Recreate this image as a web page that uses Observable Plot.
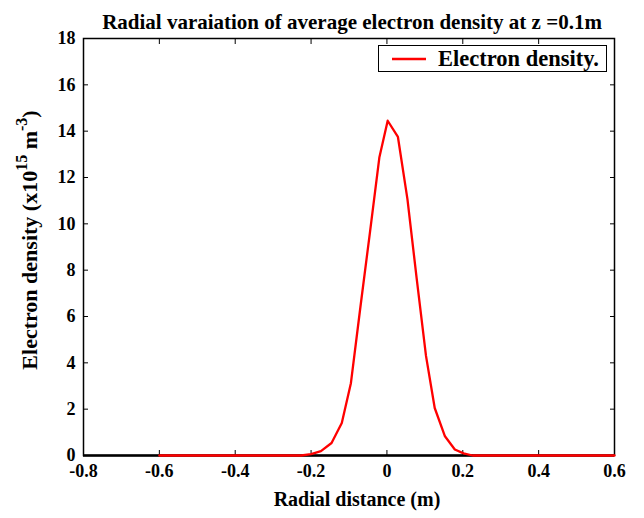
<!DOCTYPE html>
<html>
<head>
<meta charset="utf-8">
<script src="https://cdn.jsdelivr.net/npm/d3@7"></script>
<script src="https://cdn.jsdelivr.net/npm/@observablehq/plot@0.6"></script>
<style>
  body { margin: 0; background: #fff; }
  #wrap { position: relative; width: 644px; height: 518px; font-family: "Liberation Serif", "Times New Roman", serif; }
  #legend { position: absolute; left: 378px; top: 45px; width: 229px; height: 27px; border: 1.5px solid #000; background: #fff; box-sizing: border-box; display: flex; align-items: center; font-weight: bold; font-size: 22.5px; }
  #legend svg { margin-left: 13px; margin-right: 12px; }
</style>
</head>
<body>
<div id="wrap"></div>
<script>
const title = "Radial varaiation of average electron density at z =0.1m";
const xLabel = "Radial distance (m)";
const seriesName = "Electron density.";
const xTicks = [-0.8, -0.6, -0.4, -0.2, 0, 0.2, 0.4, 0.6];
const yTicks = [0, 2, 4, 6, 8, 10, 12, 14, 16, 18];
const radius = [-0.6, -0.5, -0.4, -0.3, -0.226, -0.2, -0.174, -0.146, -0.119, -0.095, -0.07, -0.045, -0.020, 0.002, 0.029, 0.054, 0.078, 0.103, 0.126, 0.153, 0.179, 0.202, 0.226, 0.3, 0.4, 0.5, 0.6];
const density = [0, 0, 0, 0, 0, 0.06, 0.19, 0.54, 1.40, 3.12, 6.4, 9.6, 12.86, 14.45, 13.75, 11.08, 7.7, 4.3, 2.05, 0.83, 0.26, 0.09, 0, 0, 0, 0, 0];

const data = radius.map((r, i) => ({r, n: density[i]}));
const fmt = d => d === 0 ? "0" : String(d);

const plot = Plot.plot({
  width: 644,
  height: 518,
  marginLeft: 83,
  marginRight: 30,
  marginTop: 38,
  marginBottom: 63,
  style: {fontFamily: '"Liberation Serif", "Times New Roman", serif', fontSize: "18px", fontWeight: "bold", color: "#000", background: "#fff"},
  x: {domain: [-0.8, 0.6]},
  y: {domain: [0, 18]},
  marks: [
    // labels
    Plot.axisX(xTicks, {anchor: "bottom", tickSize: 0, tickPadding: 9, tickFormat: fmt, label: null, fontSize: 18, fontWeight: "bold"}),
    Plot.axisY(yTicks, {anchor: "left", tickSize: 0, tickPadding: 8, tickFormat: fmt, label: null, fontSize: 18, fontWeight: "bold"}),
    // inward ticks
    Plot.axisX(xTicks, {anchor: "bottom", tickSize: 5, dy: -5, tickFormat: () => "", label: null}),
    Plot.axisX(xTicks, {anchor: "top", tickSize: 5, dy: 5, tickFormat: () => "", label: null}),
    Plot.axisY(yTicks, {anchor: "left", tickSize: 5, dx: 5, tickFormat: () => "", label: null}),
    Plot.axisY(yTicks, {anchor: "right", tickSize: 5, dx: -5, tickFormat: () => "", label: null}),
    Plot.frame({stroke: "#000", strokeWidth: 1.5}),
    Plot.ruleY([0], {stroke: "#000", strokeWidth: 2.5}),
    Plot.line(data, {x: "r", y: "n", stroke: "#ff0000", strokeWidth: 2.3}),
    Plot.text([title], {frameAnchor: "top", dx: 3, dy: -24, fontSize: 21, fontWeight: "bold", text: d => d}),
    Plot.text([xLabel], {frameAnchor: "bottom", dx: 8, dy: 50, fontSize: 20, fontWeight: "bold", text: d => d})
  ]
});

document.getElementById("wrap").appendChild(plot);

// Y axis label with superscripts
const svg = d3.select(plot);
const yl = svg.append("text")
  .attr("transform", "translate(37,240) rotate(-90)")
  .attr("text-anchor", "middle")
  .attr("font-size", 22)
  .attr("font-weight", "bold")
  .attr("fill", "#000");
yl.append("tspan").text("Electron density (x10");
yl.append("tspan").attr("dy", -10).attr("font-size", 16).text("15");
yl.append("tspan").attr("dy", 10).text(" m");
yl.append("tspan").attr("dy", -10).attr("font-size", 16).text("-3");
yl.append("tspan").attr("dy", 10).text(")");

// Legend
const legend = document.createElement("div");
legend.id = "legend";
legend.innerHTML = '<svg width="34" height="4"><line x1="0" y1="2" x2="34" y2="2" stroke="#ff0000" stroke-width="2.3"/></svg><span></span>';
legend.querySelector("span").textContent = seriesName;
document.getElementById("wrap").appendChild(legend);
</script>
</body>
</html>
